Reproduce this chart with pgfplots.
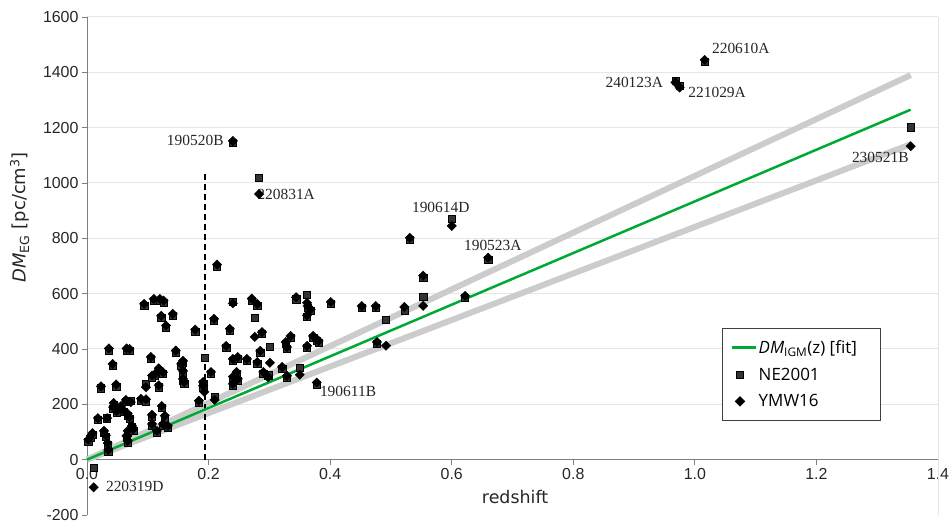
\documentclass[border=0pt]{standalone}
\usepackage{pgfplots}
\pgfplotsset{compat=1.18}
\usepackage{pgfplotstable}
\usepackage{fontspec}
\setmainfont{Liberation Sans}
\newfontfamily\labelfont{DejaVu Sans}
\newfontfamily\legfont{Open Sans}
\newfontfamily\annfont{Liberation Serif}
\definecolor{fitgreen}{HTML}{00A933}
\definecolor{bandc}{HTML}{CCCCCC}
\definecolor{gridc}{HTML}{E6E6E6}
\definecolor{mk}{HTML}{333333}
\definecolor{axc}{HTML}{7F7F7F}

\pgfplotstableread{
x ne ymw
0.002 65 72
0.006 80 86
0.009 90 96
0.011 -30 -100
0.018 145 150
0.023 258 265
0.028 97 104
0.031 83 88
0.033 150 150
0.034 55 60
0.035 30 35
0.036 395 402
0.042 340 346
0.048 265 272
0.044 198 205
0.043 185 190
0.049 170 176
0.056 188 194
0.060 172 178
0.065 395 402
0.070 393 400
0.064 210 216
0.072 213 208
0.067 160 166
0.070 148 154
0.067 98 104
0.074 117 122
0.076 105 110
0.067 62 68
0.065 80 86
0.094 556 563
0.089 213 220
0.097 210 218
0.097 274 262
0.105 364 371
0.110 574 581
0.120 574 581
0.126 568 575
0.122 512 520
0.130 478 485
0.141 520 527
0.118 322 330
0.125 310 316
0.118 262 269
0.112 303 310
0.107 297 304
0.107 156 162
0.107 123 129
0.123 188 194
0.128 150 159
0.115 98 104
0.125 123 129
0.133 116 122
0.146 387 394
0.158 350 357
0.155 340 346
0.158 315 321
0.158 286 292
0.160 275 281
0.178 463 470
0.184 207 213
0.193 368 245
0.191 275 281
0.191 260 267
0.214 698 705
0.210 227 216
0.204 310 317
0.209 502 509
0.229 405 411
0.235 466 473
0.240 572 565
0.240 293 300
0.246 310 317
0.240 268 274
0.248 286 292
0.240 358 364
0.248 365 371
0.263 358 364
0.271 575 582
0.280 557 563
0.276 513 444
0.288 455 461
0.285 387 393
0.280 347 353
0.301 408 350
0.290 311 317
0.298 305 298
0.321 328 335
0.327 419 425
0.329 400 407
0.335 440 447
0.344 580 587
0.362 596 567
0.363 548 555
0.368 537 544
0.362 516 522
0.362 404 411
0.372 440 447
0.378 429 436
0.381 422 429
0.401 563 570
0.350 332 307
0.378 272 279
0.329 297 303
0.452 548 555
0.475 548 555
0.492 505 412
0.477 418 425
0.531 795 802
0.522 537 552
0.553 658 665
0.553 590 556
0.600 870 845
0.622 585 592
0.660 723 730
0.240 1145 1152
0.283 1018 960
1.016 1437 1445
0.968 1370 1364
0.975 1352 1345
1.355 1202 1133
}\frbdata

\begin{document}
\begin{tikzpicture}
\path[use as bounding box] (0,0) rectangle (952bp,524bp);
\begin{axis}[
  at={(87bp,9bp)}, anchor=south west,
  scale only axis, width=851bp, height=498bp,
  xmin=0, xmax=1.4, ymin=-200, ymax=1600,
  axis x line=middle, axis y line=left,
  axis line style={-, draw=axc, line width=1bp},
  xtick={0,0.2,0.4,0.6,0.8,1.0,1.2,1.4},
  ytick={0,200,400,600,800,1000,1200,1400,1600},
  extra y ticks={-200},
  extra y tick style={grid=none},
  tick align=outside, major tick length=5bp,
  tick style={draw=axc, line width=0.8bp},
  hide obscured x ticks=false, hide obscured y ticks=false,
  ymajorgrids, grid style={gridc, line width=1bp},
  /pgf/number format/assume math mode=true,
  tick label style={font=\fontsize{16}{16}\selectfont, text=black!85},
  xticklabel style={/pgf/number format/.cd, fixed, fixed zerofill, precision=1},
  yticklabel style={/pgf/number format/.cd, 1000 sep={}},
  xlabel={redshift},
  xlabel style={at={(axis description cs:0.503,0.036)}, anchor=center, font=\labelfont\fontsize{17.5}{18}\selectfont, text=black!85},
  ylabel={{\itshape DM}\textsubscript{EG} [pc/cm\textsuperscript{3}]},
  ylabel style={at={(axis description cs:-0.079,0.598)}, anchor=center, font=\labelfont\fontsize{18}{18}\selectfont, text=black!85},
  legend style={at={(axis description cs:0.746,0.3755)}, anchor=north west, draw=black!75, line width=0.8bp,
     font=\legfont\fontsize{17}{18}\selectfont, row sep=9bp, inner xsep=8bp, inner ysep=10bp},
  legend cell align=left,
  clip=false,
]
\addplot[bandc, line width=6bp, forget plot] coordinates {(0,0) (1.355,1390)};
\addplot[bandc, line width=6bp, forget plot] coordinates {(0,0) (1.355,1140)};
\addplot[black, line width=1.2bp, dash pattern=on 6bp off 4bp, forget plot] coordinates {(0.194,0) (0.194,1040)};
\addplot[fitgreen, line width=2.5bp, legend image code/.code={\draw[fitgreen, line width=2.5bp] (0bp,0bp) -- (24bp,0bp);}] coordinates {(0,0) (1.355,1265)};
\addlegendentry{{\itshape DM}\textsubscript{IGM}(z) [fit]\hspace*{14bp}}
\addplot[only marks, mark=square*, mark size=3.6bp, mark options={fill=mk, draw=none}] table[x=x, y=ne] {\frbdata};
\addlegendentry{NE2001}
\addplot[only marks, mark=square*, mark size=3.3bp, mark options={rotate=45, fill=black, draw=none}] table[x=x, y=ymw] {\frbdata};
\addlegendentry{YMW16}
\draw[gridc, line width=1bp] (rel axis cs:1,0) -- (rel axis cs:1,1);
\begin{scope}[every node/.style={font=\annfont\fontsize{15.5}{16}\selectfont, text=black!85, inner sep=0pt}]
\node[anchor=west] at (axis cs:1.028,1487) {220610A};
\node[anchor=east] at (axis cs:0.948,1365) {240123A};
\node[anchor=west] at (axis cs:0.989,1328) {221029A};
\node[anchor=east] at (axis cs:1.352,1094) {230521B};
\node[anchor=east] at (axis cs:0.225,1155) {190520B};
\node[anchor=west] at (axis cs:0.280,957) {220831A};
\node[anchor=center] at (axis cs:0.582,913) {190614D};
\node[anchor=west] at (axis cs:0.620,776) {190523A};
\node[anchor=west] at (axis cs:0.383,245) {190611B};
\node[anchor=west] at (axis cs:0.031,-97) {220319D};
\end{scope}
\end{axis}
\end{tikzpicture}
\end{document}
